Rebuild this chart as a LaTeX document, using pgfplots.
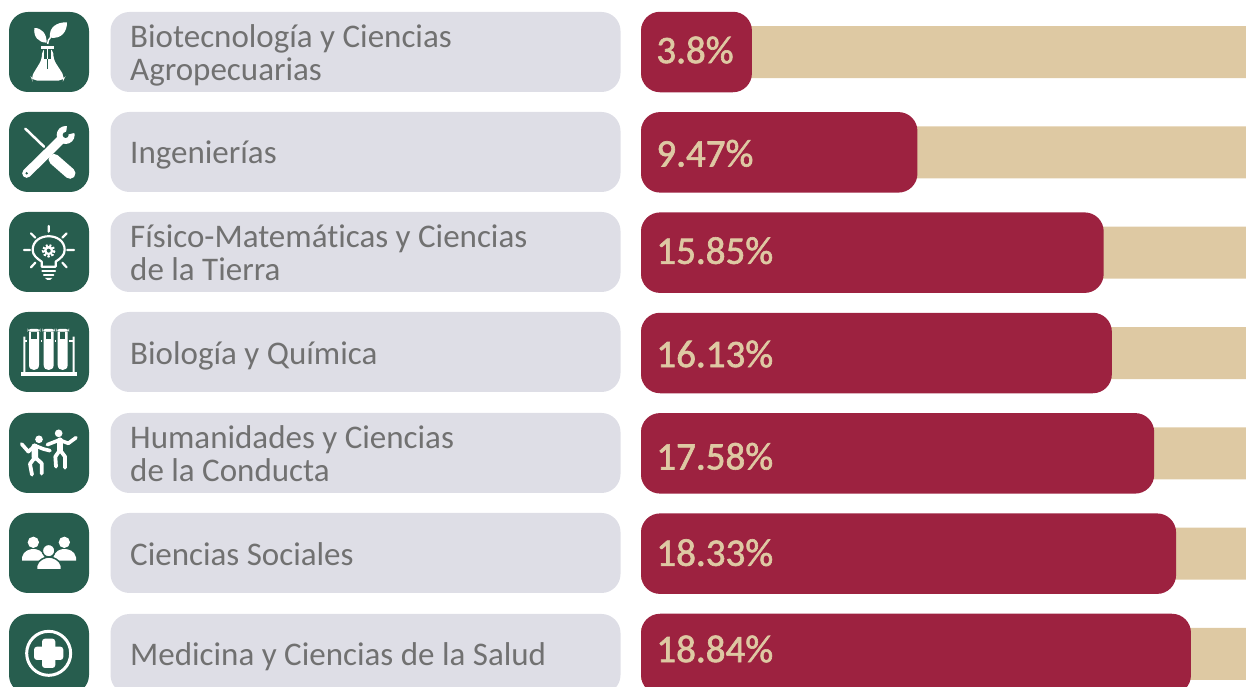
\documentclass[border=0pt]{standalone}
\usepackage{fontspec}
\setmainfont{Carlito}[Ligatures=NoCommon]
\newfontfamily\pctfont{Carlito}[RawFeature={embolden=1.6}]
\usepackage{pgfplots}
\pgfplotsset{compat=1.18}
\definecolor{guinda}{HTML}{9D2240}
\definecolor{arena}{HTML}{DEC9A3}
\definecolor{verde}{HTML}{275D4E}
\definecolor{gris}{HTML}{DEDEE6}
\definecolor{texto}{HTML}{717171}
\newcommand\st{\rule[-9.6pt]{0pt}{32pt}}

\begin{document}
\begin{tikzpicture}
\useasboundingbox (0,0) rectangle (1246pt,687pt);

% row boxes behind the axis, in reference pixels
\begin{scope}[x=1pt,y=-1pt,yshift=687pt]
  \foreach \ya/\yb in {12/92,112/192,212/292,312/392,413/493,513/593,614/694}{
    \fill[verde,rounded corners=19pt] (9,\ya) rectangle (89,\yb);
    \fill[gris,rounded corners=19pt] (110.5,\ya) rectangle (620.5,\yb);
  }
\end{scope}

\begin{axis}[
  at={(0pt,0pt)},anchor=south west,
  scale only axis,
  width=1246pt,height=687pt,
  xmin=-21.96,xmax=20.726,
  ymin=-0.5183,ymax=6.329,
  y dir=reverse,
  axis line style={draw=none},
  tick style={draw=none},
  major tick length=0pt,
  xtick=\empty,
  ytick={0,1,2,3,4,5,6},
  yticklabels={{\st Biotecnología y Ciencias\\\st Agropecuarias},\st Ingenierías,{\st Físico-Matemáticas y Ciencias\\\st de la Tierra},\st Biología y Química,{\st Humanidades y Ciencias\\\st de la Conducta},\st Ciencias Sociales,\st Medicina y Ciencias de la Salud},
  y tick label style={anchor=west,align=left,inner sep=0pt,xshift=130pt,yshift=-5pt,
    font=\fontsize{33}{32}\selectfont,text=texto},
]
\addplot[xbar,bar shift=0pt,bar width=52pt,draw=none,fill=arena]
coordinates {(20.73,0) (20.73,1) (20.73,2) (20.73,3) (20.73,4) (20.73,5) (20.73,6)};
\addplot[xbar,bar shift=0pt,bar width=80.5pt,draw=none,fill=guinda,rounded corners=19pt]
coordinates {(3.8,0) (9.47,1) (15.85,2) (16.13,3) (17.58,4) (18.33,5) (18.84,6)};
\addplot[draw=none,mark=none,point meta=explicit symbolic,
  nodes near coords={\pgfplotspointmeta\%},
  nodes near coords align={anchor=west},
  every node near coord/.append style={anchor=west,inner sep=0pt,text=arena,
    font=\fontsize{39}{39}\selectfont\pctfont}]
coordinates {(0.52,-0.02)[3.8] (0.52,1.01)[9.47] (0.52,1.98)[15.85] (0.52,3.01)[16.13]
  (0.52,4.03)[17.58] (0.52,4.99)[18.33] (0.52,5.95)[18.84]};
\end{axis}

% icons, coordinates read from the 3x crops
\begin{scope}[x=0.33333pt,y=-0.33333pt,yshift=687pt,white]
  % plant and flask
  \fill (140,128) .. controls (140,100) and (125,84) .. (103,84) .. controls (100,110) and (115,128) .. (140,128);
  \fill (150,113) .. controls (146,82) and (170,66) .. (201,67) .. controls (201,95) and (185,118) .. (150,113);
  \draw[line width=1.5pt] (143,132) .. controls (143,122) and (146,118) .. (152,112);
  \fill (122,138) rectangle (163,146);
  \fill[rounded corners=5pt] (126,146) -- (126,178) -- (93,232) -- (97,242) -- (190,242) -- (195,232) -- (160,178) -- (160,146) -- cycle;
  \fill[verde] (133,146) -- (133,176) -- (153,176) -- (153,146) -- cycle;
  \draw[line width=1.5pt] (143,146) -- (143,178);
  \draw[verde,line width=1.4pt] (143,178) -- (143,206);
  % tools
  \draw[line width=2.5pt,line cap=round] (76,386) -- (132,440);
  \draw[line width=11pt,line cap=round] (162,478) -- (210,520);
  \draw[line width=9pt,line cap=round] (80,520) -- (190,412);
  \fill (197,405) circle (27);
  \fill[verde] (197,405) -- (203,368) -- (238,395) -- cycle;
  \fill[verde] (197,405) circle (9);
  \fill[verde] (80,520) circle (4);
  % bulb with gear
  \draw[line width=2.2pt,line cap=round] (146,678) -- (146,695) (72,750) -- (90,750) (202,750) -- (222,750)
    (93,700) -- (106,713) (200,700) -- (187,713) (93,802) -- (106,788) (200,802) -- (187,788);
  \draw[line width=2.2pt,line join=round] (125,800) -- (125,785) .. controls (110,775) and (98,765) .. (98,750)
    .. controls (98,695) and (194,695) .. (194,750) .. controls (194,765) and (182,775) .. (167,785) -- (167,800) -- cycle;
  \draw[line width=2.2pt,line cap=round] (127,813) -- (165,813) (132,826) -- (160,826);
  \fill (135,834) -- (157,834) -- (150,840) -- (142,840) -- cycle;
  \draw[line width=3pt,dash pattern=on 2pt off 1.6pt] (146,752) circle (16);
  \draw[line width=2.2pt] (146,752) circle (10);
\end{scope}

\begin{scope}[x=0.33333pt,y=-0.33333pt,yshift=387pt,white]
  % test tubes in a rack
  \fill (62,216) rectangle (232,228);
  \fill (70,110) rectangle (76,220) (218,110) rectangle (224,220);
  \fill (72,120) rectangle (222,127);
  \foreach \x in {102,146,188}{
    \fill[verde] (\x-20,95) rectangle (\x+20,215);
    \fill[rounded corners=3pt] (\x-19,87) rectangle (\x+19,94);
    \fill (\x-15,94) -- (\x-15,195) .. controls (\x-15,215) and (\x+15,215) .. (\x+15,195) -- (\x+15,94) -- cycle;
    \fill[verde] (\x-8,97) rectangle (\x+8,116);
  }
  % dancers
  \fill (117,418) circle (11.5);
  \fill (176,400) circle (11.5);
  \draw[line width=3.6pt,line cap=round,line join=round] (65,432) -- (85,455) -- (105,437) -- (130,447) -- (150,452);
  \draw[line width=6.5pt,line cap=round] (104,440) -- (105,472);
  \draw[line width=3.8pt,line cap=round,line join=round] (105,472) -- (90,492) -- (96,524);
  \draw[line width=3.8pt,line cap=round,line join=round] (105,472) -- (125,490) -- (125,521);
  \draw[line width=3.6pt,line cap=round,line join=round] (142,434) -- (178,420) -- (205,430) -- (228,413);
  \draw[line width=6.5pt,line cap=round] (180,422) -- (180,450);
  \draw[line width=3.8pt,line cap=round,line join=round] (180,450) -- (166,470) -- (168,500);
  \draw[line width=3.8pt,line cap=round,line join=round] (180,450) -- (195,470) -- (195,503);
  % three people
  \fill (100,727) circle (17) (193,727) circle (17);
  \fill (66,782) -- (66,772) .. controls (70,752) and (90,747) .. (100,747) .. controls (112,747) and (128,752) .. (134,772) -- (134,782) -- cycle;
  \fill (160,782) -- (160,772) .. controls (165,752) and (182,747) .. (193,747) .. controls (205,747) and (224,752) .. (228,772) -- (228,782) -- cycle;
  \draw[verde,line width=1.5pt,fill=white] (146,752) circle (19);
  \draw[verde,line width=1.5pt,fill=white] (110,810) -- (110,797) .. controls (114,780) and (134,771) .. (147,771) .. controls (160,771) and (180,780) .. (184,797) -- (184,810) -- cycle;
  % cross in a ring
  \draw[line width=3pt] (146,1060) circle (66);
  \fill[rounded corners=3pt] (126,1016) rectangle (166,1104);
  \fill[rounded corners=3pt] (102,1040) rectangle (190,1080);
\end{scope}
\end{tikzpicture}
\end{document}
